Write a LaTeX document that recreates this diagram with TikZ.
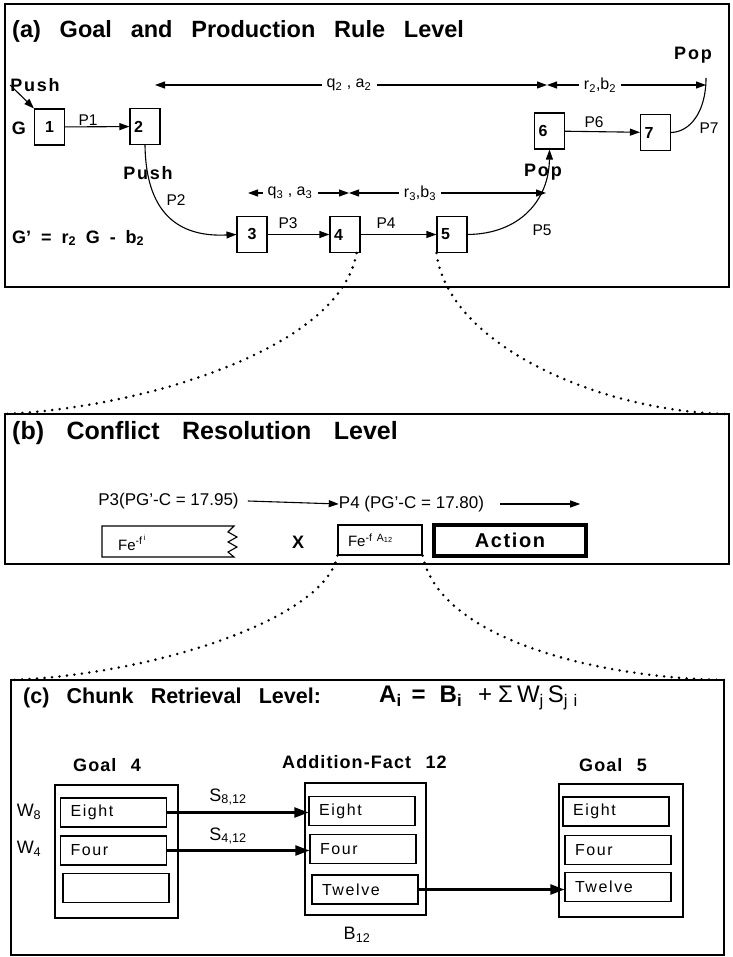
\documentclass[tikz,border=0pt]{standalone}
\usepackage{fontspec}
\setmainfont{Liberation Sans}
\usetikzlibrary{positioning,calc,arrows.meta}
\tikzset{
  panel/.style  = {draw, line width=1.4pt, inner sep=0pt, outer sep=0pt},
  gbox/.style   = {draw, line width=1.1pt, minimum width=30pt, minimum height=36pt,
                   text width=22pt, inner xsep=4pt, inner ysep=0pt, align=left,
                   font={\fontsize{16}{18}\selectfont\bfseries}},
  arr/.style    = {line width=1.1pt, -{Triangle[length=10pt,width=7pt]}},
  harr/.style   = {line width=2.2pt, -{Triangle[length=14pt,width=10pt]}},
  dots/.style   = {line width=2.8pt, line cap=round, dash pattern=on 0pt off 7.5pt},
  ttl/.style 2 args = {anchor=west, inner sep=0pt,
                   font={\fontsize{#1}{26}\selectfont\bfseries\spaceskip=#2\relax}},
  lbl/.style    = {inner sep=0pt, font={\fontsize{15.5}{18}\selectfont}},
  clbl/.style   = {inner sep=0pt, font={\fontsize{18}{20}\selectfont}},
  blbl/.style   = {inner sep=0pt,
                   font={\fontsize{18}{20}\selectfont\bfseries\addfontfeature{LetterSpace=10}}},
  wlbl/.style   = {inner sep=5pt, font={\fontsize{16}{18}\selectfont}},
  ptxt/.style   = {inner sep=0pt, font={\fontsize{17}{20}\selectfont}},
  fbx/.style    = {draw, line width=1.1pt, minimum height=30pt, text width=64pt,
                   inner xsep=10pt, inner ysep=0pt, align=left,
                   font={\fontsize{15}{17}\selectfont}},
  actbox/.style = {draw, line width=4.5pt, minimum width=152pt, minimum height=31pt,
                   inner sep=0pt,
                   font={\fontsize{20}{22}\selectfont\bfseries\addfontfeature{LetterSpace=8}}},
  chunk/.style  = {draw, line width=1.1pt, inner sep=0pt},
  slot/.style   = {draw, line width=1.1pt, minimum height=29pt, text width=86pt,
                   inner xsep=10pt, inner ysep=0pt, align=left,
                   font={\fontsize{16}{18}\selectfont\addfontfeature{LetterSpace=10}}},
  hdr/.style    = {anchor=west, inner sep=0pt,
                   font={\fontsize{18}{20}\selectfont\bfseries\addfontfeature{LetterSpace=6}\spaceskip=.8em\relax}},
}
\begin{document}
\begin{tikzpicture}[x=1pt,y=-1pt]
  \useasboundingbox (0,0) rectangle (732,957);
  \node[panel, minimum width=724pt, minimum height=283pt] (pa) at (367,145.5) {};
  \node[panel, minimum width=724pt, minimum height=150pt] (pb) at (367,489) {};
  \node[panel, minimum width=713pt, minimum height=275pt] (pc) at (367.5,817.5) {};

  \node[ttl={23.5}{.8em}] (ta) at (12,31) {(a) Goal and Production Rule Level};
  \node[gbox, align=center] (g1) at (49.5,127) {1};
  \node[gbox] (g2) at (145,126.5) {2};
  \node[gbox, align=center] (g3) at (252,234.5) {3};
  \node[gbox] (g4) at (345,234.5) {4};
  \node[gbox] (g5) at (452,234.5) {5};
  \node[gbox] (g6) at (549.5,131) {6};
  \node[gbox] (g7) at (655.5,132.5) {7};
  \node[blbl] (push1) at (35,85) {Push};
  \node[blbl] (push2) at (148,173) {Push};
  \node[blbl] (pop5) at (543,172) {Pop};
  \node[blbl] (pop7) at (693,55) {Pop};
  \node[blbl] (gl) at (19,128) {G};
  \node[blbl, anchor=west, font={\fontsize{18}{20}\selectfont\bfseries\spaceskip=.55em\relax}] (gp) at (12,238)
    {G' = r\textsubscript{2} G - b\textsubscript{2}};
  \node[lbl] (p1) at (88,120) {P1};
  \node[lbl] (p2) at (176,200) {P2};
  \node[lbl] (p3) at (288,223) {P3};
  \node[lbl] (p4) at (386,223) {P4};
  \node[lbl] (p5) at (542,230) {P5};
  \node[lbl] (p6) at (594,122) {P6};
  \node[lbl] (p7) at (709,128) {P7};
  \draw[arr] (push1.west) -- (g1.north west);
  \draw[arr] (g1) -- (g2);
  \draw[arr] (g2.south) .. controls (146,220) and (185,237) .. (g3.west);
  \draw[arr] (g3) -- (g4);
  \draw[arr] (g4) -- (g5);
  \draw[arr] (g5.east) .. controls (520,234) and (549,200) .. (g6.south);
  \draw[arr] (g6) -- (g7);
  \coordinate (l2) at (155,85);
  \coordinate (m2) at (547,85);
  \coordinate (t7) at (706,85);
  \draw[line width=1.1pt] (g7.east) .. controls (690,132) and (706,112) .. ($(t7)+(0,-7)$);
  \node[wlbl] (qa2) at (349,85) {q\textsubscript{2} , a\textsubscript{2}};
  \node[wlbl] (rb2) at (600,85) {r\textsubscript{2},b\textsubscript{2}};
  \draw[arr] (qa2) -- (l2);
  \draw[arr] (qa2) -- (m2);
  \draw[arr] (rb2) -- (m2);
  \draw[arr] (rb2) -- (t7);
  \coordinate (l3) at (248,193);
  \coordinate (m3) at (349,193);
  \coordinate (t5) at (546,193);
  \node[wlbl] (qa3) at (290,193) {q\textsubscript{3} , a\textsubscript{3}};
  \node[wlbl] (rb3) at (420,193) {r\textsubscript{3},b\textsubscript{3}};
  \draw[arr] (qa3) -- (l3);
  \draw[arr] (qa3) -- (m3);
  \draw[arr] (rb3) -- (m3);
  \draw[arr] (rb3) -- (t5);

  \node[ttl={25}{.9em}] (tb) at (12,433) {(b) Conflict Resolution Level};
  \node[ptxt] (p3c) at (168.5,501) {P3(PG'-C = 17.95)};
  \node[ptxt] (p4c) at (411.5,504) {P4 (PG'-C = 17.80)};
  \draw[arr] ([xshift=9pt]p3c.east) -- (p4c.west);
  \draw[arr] ([xshift=16pt]p4c.east) -- ++(80,0);
  \node[lbl, anchor=west, font={\fontsize{15}{17}\selectfont}] (fet) at (118,543)
    {Fe\textsuperscript{-f\,\textsuperscript{i}}};
  \draw[line width=1.1pt] (234,526) -- (102,526) -- (102,557) -- (234,557) -- (228,552)
    -- (237,547) -- (228,542) -- (237,537) -- (228,532) -- cycle;
  \node[blbl] (xx) at (298,542) {X};
  \node[fbx] (fea) at (380,540) {Fe\textsuperscript{-f A\textsubscript{12}}};
  \node[actbox] (act) at (510,540.5) {Action};

  \draw[dots] ([xshift=-4pt]g4.south east) .. controls (340,350) and (140,408) .. (pb.north west);
  \draw[dots] (g5.south west) .. controls (448,345) and (600,412) .. (pb.north east);
  \draw[dots] (fea.south west) .. controls (325,620) and (150,675) .. (pc.north west);
  \draw[dots] (fea.south east) .. controls (440,640) and (600,678) .. (pc.north east);

  \node[ttl={21.5}{.8em}] (tc) at (23,698) {(c) Chunk Retrieval Level:};
  \node[anchor=west, inner sep=0pt, font={\fontsize{24}{28}\selectfont\bfseries}] (frm) at (379,698)
    {A\textsubscript{i}\hspace{10pt}=\hspace{14pt}B\textsubscript{i}\hspace{16pt}{\mdseries +\hspace{6pt}Σ\hspace{4pt}W\textsubscript{j}\hspace{4pt}S\textsubscript{j\hspace{6pt}i}}};
  \node[hdr] (hg4) at (73,765) {Goal 4};
  \node[hdr] (haf) at (282,762) {Addition-Fact 12};
  \node[hdr] (hg5) at (579,765) {Goal 5};
  \node[chunk, minimum width=123pt, minimum height=133pt] (c4) at (116.5,851.5) {};
  \node[slot] (c4a) at (113.5,812.5) {Eight};
  \node[slot] (c4b) at (113.5,850.5) {Four};
  \node[slot] (c4c) at (116,888) {};
  \node[chunk, minimum width=121pt, minimum height=132pt] (c12) at (365.5,849) {};
  \node[slot] (c12a) at (362,811) {Eight};
  \node[slot] (c12b) at (363,849) {Four};
  \node[slot] (c12c) at (365,889.5) {Twelve};
  \node[chunk, minimum width=124pt, minimum height=133pt] (c5) at (621,850.5) {};
  \node[slot] (c5a) at (616,811.5) {Eight};
  \node[slot] (c5b) at (618,850) {Four};
  \node[slot] (c5c) at (618,887) {Twelve};
  \node[clbl] (w8) at (29,812) {W\textsubscript{8}};
  \node[clbl] (w4) at (29,849) {W\textsubscript{4}};
  \node[clbl] (s8) at (228,797) {S\textsubscript{8,12}};
  \node[clbl] (s4) at (228,836) {S\textsubscript{4,12}};
  \node[clbl] (b12) at (357,935) {B\textsubscript{12}};
  \draw[harr] (c4a.east) -- (c4a.east -| c12a.west);
  \draw[harr] (c4b.east) -- (c4b.east -| c12b.west);
  \draw[harr] (c12c.east) -- (c12c.east -| c5c.west);
\end{tikzpicture}
\end{document}
